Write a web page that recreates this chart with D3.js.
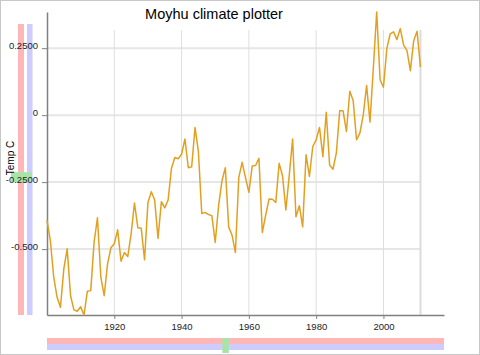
<!DOCTYPE html>
<html><head><meta charset="utf-8">
<script src="https://cdn.jsdelivr.net/npm/d3@7"></script>
<style>
html,body{margin:0;padding:0;background:#fff;}
svg{display:block;font-family:"Liberation Sans",Arial,Helvetica,sans-serif;}
</style></head>
<body><svg id="c" width="480" height="355"></svg>
<script>
const firstYear = 1900;
const anomalies = [
-0.393,-0.468,-0.605,-0.680,-0.717,-0.574,-0.499,-0.674,-0.727,-0.732,
-0.715,-0.746,-0.657,-0.655,-0.474,-0.383,-0.605,-0.674,-0.555,-0.495,
-0.480,-0.428,-0.545,-0.513,-0.528,-0.443,-0.328,-0.420,-0.422,-0.540,
-0.326,-0.286,-0.317,-0.460,-0.323,-0.346,-0.317,-0.198,-0.158,-0.163,
-0.146,-0.089,-0.196,-0.193,-0.046,-0.136,-0.367,-0.363,-0.371,-0.375,
-0.475,-0.338,-0.246,-0.196,-0.417,-0.448,-0.513,-0.233,-0.176,-0.233,
-0.288,-0.190,-0.188,-0.161,-0.438,-0.373,-0.313,-0.314,-0.326,-0.180,
-0.226,-0.354,-0.226,-0.089,-0.379,-0.338,-0.417,-0.148,-0.229,-0.117,
-0.092,-0.046,-0.155,0.011,-0.186,-0.202,-0.142,0.016,0.016,-0.061,
0.089,0.055,-0.092,-0.067,0.001,0.111,-0.026,0.176,0.385,0.132,
0.104,0.248,0.303,0.311,0.282,0.323,0.261,0.241,0.166,0.278,
0.313,0.179];
const years = anomalies.map((_, i) => firstYear + i);
const xDomain = [1900, 2018];
const xTickValues = [1920, 1940, 1960, 1980, 2000];
const yTickValues = [0.25, 0, -0.25, -0.5];
const yTickLabels = ["0.2500", "0", "-0.2500", "-0.500"];
const titleText = "Moyhu climate plotter";
const yLabelText = "Temp C";
const sliderValue = -0.25;   // green marker on left slider
const sliderYear = 1953;     // green marker on bottom slider

const svg = d3.select("#c");
const L = 47, R = 444, T = 12, B = 315, gridTop = 30;
const x = d3.scaleLinear().domain(xDomain).range([L, R]);
const y = d3.scaleLinear().domain(d3.extent(anomalies)).range([B, T]);
const lastYear = years[years.length - 1];

// outer border
svg.append("rect").attr("x",0.5).attr("y",0.5).attr("width",479).attr("height",354)
  .attr("fill","#fff").attr("stroke","#c8c8c8");

// grid
const g = svg.append("g");
g.selectAll("line.hg").data(yTickValues).join("line")
  .attr("x1", L).attr("x2", x(lastYear)).attr("y1", d => y(d)).attr("y2", d => y(d))
  .attr("stroke", "#e6e6e6").attr("stroke-width", 2);
g.selectAll("line.vg").data(xTickValues).join("line")
  .attr("x1", d => x(d)).attr("x2", d => x(d)).attr("y1", gridTop).attr("y2", B)
  .attr("stroke", "#dedede").attr("stroke-width", 1);
g.append("line").attr("x1", x(lastYear)).attr("x2", x(lastYear)).attr("y1", gridTop).attr("y2", B)
  .attr("stroke", "#dcdcdc").attr("stroke-width", 2);

// left sliders
svg.append("rect").attr("x",18).attr("y",24).attr("width",6).attr("height",B-24).attr("fill","#ffb6b6");
svg.append("rect").attr("x",27).attr("y",24).attr("width",5.5).attr("height",B-24).attr("fill","#ccccff");
svg.append("rect").attr("x",11).attr("y",y(sliderValue)-10).attr("width",21).attr("height",10).attr("fill","#a8e4a8");

// bottom sliders
svg.append("rect").attr("x",L).attr("y",338).attr("width",R-L).attr("height",6).attr("fill","#ffb6b6");
svg.append("rect").attr("x",L).attr("y",344).attr("width",R-L).attr("height",6).attr("fill","#ccccff");
svg.append("rect").attr("x",x(sliderYear)-3).attr("y",338).attr("width",6.5).attr("height",15).attr("fill","#a8e4a8");

// axes
const yAxis = d3.axisLeft(y).tickValues(yTickValues).tickFormat((d,i) => yTickLabels[i])
  .tickSizeInner(5).tickSizeOuter(0).tickPadding(4);
const ya = svg.append("g").attr("transform", `translate(${L},0)`).call(yAxis);
ya.select(".domain").attr("stroke","#808080").attr("stroke-width",1.5);
ya.selectAll(".tick line").attr("stroke","#808080");
ya.selectAll(".tick text").attr("dy","0").attr("fill","#222").style("font-size","9.5px")
  .style("font-family","'Liberation Sans',Arial,sans-serif");

const xAxis = d3.axisBottom(x).tickValues(xTickValues).tickFormat(d3.format("d"))
  .tickSizeInner(4).tickSizeOuter(0).tickPadding(4);
const xa = svg.append("g").attr("transform", `translate(0,${B})`).call(xAxis);
xa.select(".domain").attr("stroke","#808080").attr("stroke-width",1.5);
xa.selectAll(".tick line").attr("stroke","#808080");
xa.selectAll(".tick text").attr("fill","#222").style("font-size","9.5px")
  .style("font-family","'Liberation Sans',Arial,sans-serif");

// line
const line = d3.line().x((d,i) => x(years[i])).y(d => y(d));
svg.append("path").datum(anomalies).attr("d", line)
  .attr("fill","none").attr("stroke","#e3a020").attr("stroke-width",1.5).attr("stroke-linejoin","round");

// title & label
svg.append("text").attr("x",214).attr("y",18.5).attr("text-anchor","middle")
  .style("font-size","14.5px").attr("fill","#000").text(titleText);
svg.append("text").attr("transform","translate(13.5,158) rotate(-90)").attr("text-anchor","middle")
  .style("font-size","10px").attr("fill","#000").text(yLabelText);
</script></body></html>
